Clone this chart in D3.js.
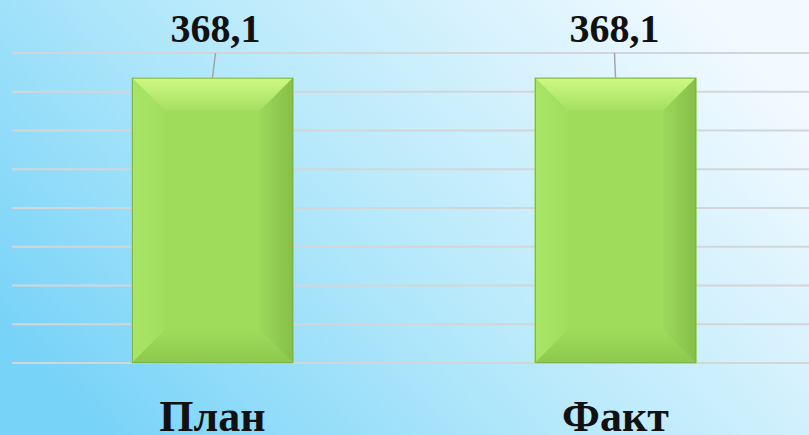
<!DOCTYPE html>
<html>
<head>
<meta charset="utf-8">
<script src="https://cdn.jsdelivr.net/npm/d3@7"></script>
<style>
  html, body { margin: 0; padding: 0; overflow: hidden; }
  svg { display: block; }
</style>
</head>
<body>
<script>
// data
const categories = ["План", "Факт"];
const values = [368.1, 368.1];
const valueLabels = ["368,1", "368,1"];
const gridTicks = [0, 50, 100, 150, 200, 250, 300, 350, 400];

const W = 809, H = 435;
const bevel = 33;
const labelShift = [3, -1]; // leader line leans a little on the first bar

const svg = d3.select("body").append("svg")
  .attr("width", W).attr("height", H);

const defs = svg.append("defs");

function grad(id, x2, y2, stops) {
  const g = defs.append("linearGradient").attr("id", id)
    .attr("x1", stops.x1 || "0").attr("y1", stops.y1 || "0")
    .attr("x2", x2).attr("y2", y2);
  stops.list.forEach(s => g.append("stop").attr("offset", s[0]).attr("stop-color", s[1]));
}

// background
grad("bg", "100%", "25%", { y1: "75%", list: [
  ["0%", "#78d3f8"], ["45%", "#b4e8fb"], ["100%", "#f3faff"]
]});
grad("topFace", "0", "1", { list: [["0%", "#cff984"], ["100%", "#a4df60"]] });
grad("leftFace", "1", "0", { list: [["0%", "#a8e466"], ["100%", "#a2de5e"]] });
grad("rightFace", "1", "0", { list: [["0%", "#9bd85a"], ["100%", "#86bf48"]] });
grad("bottomFace", "0", "1", { list: [["0%", "#9fdb5b"], ["100%", "#8cc84d"]] });

svg.append("rect").attr("width", W).attr("height", H).attr("fill", "url(#bg)");

const x = d3.scaleBand()
  .domain(categories)
  .range([11, 817])
  .paddingInner(0.6)
  .paddingOuter(0.3);

const y = d3.scaleLinear()
  .domain([0, 400])
  .range([363, 53]);

// gridlines
svg.append("g")
  .selectAll("line")
  .data(gridTicks)
  .join("line")
  .attr("x1", 12).attr("x2", W)
  .attr("y1", d => y(d)).attr("y2", d => y(d))
  .attr("stroke", "#d3d6d8")
  .attr("stroke-width", 2);

// bars with bevel
const bars = svg.append("g")
  .selectAll("g")
  .data(categories.map((c, i) => ({ c, v: values[i] })))
  .join("g");

function faces(d) {
  const x0 = x(d.c), x1 = x(d.c) + x.bandwidth();
  const y0 = y(d.v), y1 = y(0);
  const b = bevel;
  return [
    { pts: [[x0, y0], [x1, y0], [x1, y1], [x0, y1]], fill: "#a0dc5b" },
    { pts: [[x0, y0], [x1, y0], [x1 - b, y0 + b], [x0 + b, y0 + b]], fill: "url(#topFace)" },
    { pts: [[x0, y0], [x0 + b, y0 + b], [x0 + b, y1 - b], [x0, y1]], fill: "url(#leftFace)" },
    { pts: [[x1, y0], [x1, y1], [x1 - b, y1 - b], [x1 - b, y0 + b]], fill: "url(#rightFace)" },
    { pts: [[x0, y1], [x0 + b, y1 - b], [x1 - b, y1 - b], [x1, y1]], fill: "url(#bottomFace)" }
  ];
}

bars.selectAll("polygon")
  .data(d => faces(d))
  .join("polygon")
  .attr("points", f => f.pts.map(p => p.join(",")).join(" "))
  .attr("fill", f => f.fill)
  .attr("stroke", f => f.fill)
  .attr("stroke-width", 0.5);

bars.append("rect")
  .attr("x", d => x(d.c) + 0.5)
  .attr("y", d => y(d.v) + 0.5)
  .attr("width", x.bandwidth() - 1)
  .attr("height", d => y(0) - y(d.v) - 1)
  .attr("fill", "none")
  .attr("stroke", "#7fb446")
  .attr("stroke-width", 1);

// leader lines
bars.append("line")
  .attr("x1", (d, i) => x(d.c) + x.bandwidth() / 2 + labelShift[i])
  .attr("y1", y(400))
  .attr("x2", d => x(d.c) + x.bandwidth() / 2)
  .attr("y2", d => y(d.v))
  .attr("stroke", "#a3a6a9")
  .attr("stroke-width", 1.5);

// value labels
bars.append("text")
  .attr("x", (d, i) => x(d.c) + x.bandwidth() / 2 + labelShift[i])
  .attr("y", 42)
  .attr("text-anchor", "middle")
  .attr("font-family", "'Liberation Serif', serif")
  .attr("font-weight", "bold")
  .attr("font-size", 40)
  .attr("fill", "#111")
  .text((d, i) => valueLabels[i]);

// category labels
bars.append("text")
  .attr("x", d => x(d.c) + x.bandwidth() / 2)
  .attr("y", 431)
  .attr("text-anchor", "middle")
  .attr("font-family", "'Liberation Serif', serif")
  .attr("font-weight", "bold")
  .attr("font-size", 44)
  .attr("fill", "#111")
  .text(d => d.c);
</script>
</body>
</html>
